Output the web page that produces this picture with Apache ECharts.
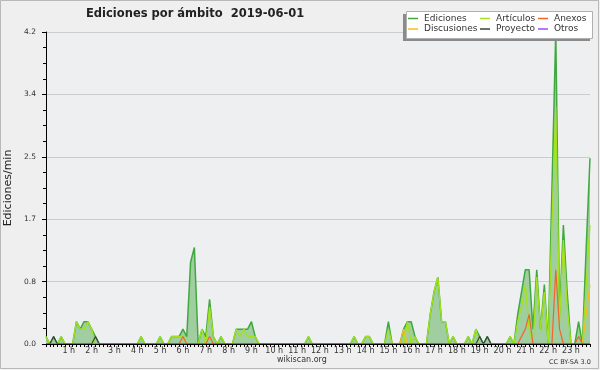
<!DOCTYPE html>
<html>
<head>
<meta charset="utf-8">
<script src="https://cdn.jsdelivr.net/npm/echarts@6/dist/echarts.min.js"></script>
<style>
  html, body { margin: 0; padding: 0; background: #efefef; }
  #chart { width: 600px; height: 370px; }
</style>
</head>
<body>
<div id="chart"></div>
<script>
// one point every 10 minutes, 00:00 .. 23:50 (edits per minute)
var ediciones = [
  0.1, 0, 0.1, 0, 0.1, 0, 0, 0, 0.3, 0.2, 0.3, 0.3,
  0.2, 0.1, 0, 0, 0, 0, 0, 0, 0, 0, 0, 0,
  0, 0.1, 0, 0, 0, 0, 0.1, 0, 0, 0.1, 0.1, 0.1,
  0.2, 0.1, 1.1, 1.3, 0, 0.2, 0.1, 0.6, 0.1, 0, 0.1, 0,
  0, 0, 0.2, 0.2, 0.2, 0.2, 0.3, 0.1, 0, 0, 0, 0,
  0, 0, 0, 0, 0, 0, 0, 0, 0, 0.1, 0, 0,
  0, 0, 0, 0, 0, 0, 0, 0, 0, 0.1, 0, 0,
  0.1, 0.1, 0, 0, 0, 0, 0.3, 0, 0, 0, 0.2, 0.3,
  0.3, 0.1, 0, 0, 0, 0.4, 0.7, 0.9, 0.3, 0.3, 0, 0.1,
  0, 0, 0, 0.1, 0, 0.2, 0.1, 0, 0.1, 0, 0, 0,
  0, 0, 0.1, 0, 0.4, 0.7, 1.0, 1.0, 0.2, 1.0, 0.2, 0.8,
  0, 2.1, 4.2, 0.4, 1.6, 0.7, 0, 0, 0.3, 0, 1.3, 2.5
];
var articulos = [
  0.1, 0, 0, 0, 0.1, 0, 0, 0, 0.3, 0.2, 0.2, 0.3,
  0.2, 0, 0, 0, 0, 0, 0, 0, 0, 0, 0, 0,
  0, 0.1, 0, 0, 0, 0, 0.1, 0, 0, 0.1, 0.1, 0.1,
  0.1, 0, 0, 0, 0, 0.2, 0, 0.5, 0.1, 0, 0.1, 0,
  0, 0, 0.2, 0.1, 0.2, 0.1, 0.1, 0.1, 0, 0, 0, 0,
  0, 0, 0, 0, 0, 0, 0, 0, 0, 0.1, 0, 0,
  0, 0, 0, 0, 0, 0, 0, 0, 0, 0.1, 0, 0,
  0.1, 0.1, 0, 0, 0, 0, 0.2, 0, 0, 0, 0, 0.3,
  0, 0.1, 0, 0, 0, 0.4, 0.7, 0.9, 0.3, 0.3, 0, 0.1,
  0, 0, 0, 0.1, 0, 0.2, 0, 0, 0, 0, 0, 0,
  0, 0, 0.1, 0, 0.3, 0.5, 0.8, 0.2, 0, 0.9, 0.2, 0.7,
  0, 1.6, 3.2, 0.3, 1.4, 0.5, 0, 0, 0, 0, 0.8, 1.6
];
var anexos = [
  0, 0, 0, 0, 0, 0, 0, 0, 0, 0, 0, 0,
  0, 0, 0, 0, 0, 0, 0, 0, 0, 0, 0, 0,
  0, 0, 0, 0, 0, 0, 0, 0, 0, 0, 0, 0,
  0.1, 0, 0, 0, 0, 0, 0, 0.1, 0, 0, 0, 0,
  0, 0, 0, 0, 0, 0, 0, 0, 0, 0, 0, 0,
  0, 0, 0, 0, 0, 0, 0, 0, 0, 0, 0, 0,
  0, 0, 0, 0, 0, 0, 0, 0, 0, 0, 0, 0,
  0, 0, 0, 0, 0, 0, 0, 0, 0, 0, 0, 0,
  0, 0, 0, 0, 0, 0, 0, 0, 0, 0, 0, 0,
  0, 0, 0, 0, 0, 0, 0, 0, 0, 0, 0, 0,
  0, 0, 0, 0, 0, 0.1, 0.2, 0.4, 0, 0, 0, 0,
  0, 0, 1.0, 0.2, 0, 0, 0, 0, 0.1, 0, 0, 0
];
var discusiones = [
  0, 0, 0, 0, 0, 0, 0, 0, 0, 0, 0, 0,
  0, 0, 0, 0, 0, 0, 0, 0, 0, 0, 0, 0,
  0, 0, 0, 0, 0, 0, 0, 0, 0, 0, 0, 0,
  0, 0, 0, 0, 0, 0, 0, 0, 0, 0, 0, 0,
  0, 0, 0, 0, 0, 0, 0, 0, 0, 0, 0, 0,
  0, 0, 0, 0, 0, 0, 0, 0, 0, 0, 0, 0,
  0, 0, 0, 0, 0, 0, 0, 0, 0, 0, 0, 0,
  0, 0, 0, 0, 0, 0, 0, 0, 0, 0, 0.2, 0,
  0, 0, 0, 0, 0, 0, 0, 0, 0, 0, 0, 0,
  0, 0, 0, 0, 0, 0, 0, 0, 0, 0, 0, 0,
  0, 0, 0, 0, 0, 0, 0, 0, 0, 0, 0, 0,
  0, 0, 0, 0, 0, 0, 0, 0, 0, 0, 0.4, 0.8
];
var proyecto = [
  0, 0, 0.1, 0, 0, 0, 0, 0, 0, 0, 0, 0,
  0, 0.1, 0, 0, 0, 0, 0, 0, 0, 0, 0, 0,
  0, 0, 0, 0, 0, 0, 0, 0, 0, 0, 0, 0,
  0, 0, 0, 0, 0, 0, 0, 0, 0, 0, 0, 0,
  0, 0, 0, 0, 0, 0, 0, 0, 0, 0, 0, 0,
  0, 0, 0, 0, 0, 0, 0, 0, 0, 0, 0, 0,
  0, 0, 0, 0, 0, 0, 0, 0, 0, 0, 0, 0,
  0, 0, 0, 0, 0, 0, 0, 0, 0, 0, 0, 0,
  0, 0, 0, 0, 0, 0, 0, 0, 0, 0, 0, 0,
  0, 0, 0, 0, 0, 0, 0.1, 0, 0.1, 0, 0, 0,
  0, 0, 0, 0, 0, 0, 0, 0, 0, 0, 0, 0,
  0, 0, 0, 0, 0, 0, 0, 0, 0, 0, 0, 0
];
var otros = [];   // nothing visible in the picture
for (var k = 0; k < 144; k++) otros.push(0);

var yTicks = { min: 0, max: 4.2, step: 0.84 };

// categories: 00:00, 00:10 ... 23:50
var times = [];
for (var i = 0; i < 144; i++) {
  var h = Math.floor(i / 6), m = (i % 6) * 10;
  times.push((h < 10 ? '0' : '') + h + ':' + (m < 10 ? '0' : '') + m);
}

var chart = echarts.init(document.getElementById('chart'));
var font = 'DejaVu Sans';

function lineSeries(name, data, color, width, z) {
  return {
    name: name, type: 'line', data: data, showSymbol: false, symbol: 'none',
    lineStyle: { color: color, width: width }, itemStyle: { color: color },
    z: z, silent: true
  };
}

var legendItems = [
  ['Ediciones', 408, 14], ['Artículos', 480, 14], ['Anexos', 538, 14],
  ['Discusiones', 408, 24.5], ['Proyecto', 480, 24.5], ['Otros', 538, 24.5]
];

var option = {
  animation: false,
  backgroundColor: '#efefef',
  title: {
    text: 'Ediciones por ámbito  2019-06-01',
    left: 86, top: 8, padding: 0,
    textStyle: { fontFamily: font, fontSize: 11.5, fontWeight: 'bold', color: '#222' }
  },
  legend: legendItems.map(function (it) {
    return {
      data: [it[0]], left: it[1], top: it[2], padding: 0, itemGap: 0,
      icon: 'rect', itemWidth: 10, itemHeight: 1.5, z: 6,
      selectedMode: false,
      textStyle: { fontFamily: font, fontSize: 9, color: '#333', padding: [0, 0, 0, 1] }
    };
  }),
  grid: {
    left: 46, right: 10, top: 32, bottom: 26, outerBoundsMode: 'none',
    show: true, backgroundColor: '#eeeff0', borderWidth: 0
  },
  xAxis: {
    type: 'category', data: times, boundaryGap: false, z: 10,
    axisLine: { lineStyle: { color: '#000', width: 1 } },
    axisTick: { interval: 0, length: 3, lineStyle: { color: '#000' } },
    axisLabel: {
      interval: function (idx) { return idx % 6 === 0 && idx > 0; },
      formatter: function (v, idx) { return Math.floor(idx / 6) + ' h'; },
      fontFamily: font, fontSize: 8, color: '#333', margin: 3
    },
    splitLine: { show: false }
  },
  yAxis: {
    type: 'value', min: yTicks.min, max: yTicks.max, interval: yTicks.step,
    name: 'Ediciones/min', nameLocation: 'middle', nameGap: 28,
    nameTextStyle: { fontFamily: font, fontSize: 11, color: '#222' },
    axisLine: { show: true, lineStyle: { color: '#000' } },
    axisTick: { show: true, length: 4, lineStyle: { color: '#000' } },
    minorTick: { show: true, splitNumber: 4, length: 3, lineStyle: { color: '#000' } },
    axisLabel: {
      formatter: function (v) { return v.toFixed(1); },
      fontFamily: font, fontSize: 7.5, color: '#333', margin: 10
    },
    splitLine: { lineStyle: { color: '#cccccc', width: 1 } }
  },
  graphic: [
    { type: 'rect', shape: { x: 0.5, y: 0.5, width: 598, height: 368 }, style: { fill: 'none', stroke: '#b8b8b8' }, z: 0, silent: true },
    { type: 'rect', shape: { x: 403, y: 14, width: 187, height: 27 }, style: { fill: '#8a8a8a' }, z: 4, silent: true },
    { type: 'rect', shape: { x: 406.5, y: 11.5, width: 186, height: 27 }, style: { fill: '#ffffff', stroke: '#b0b0b0', lineWidth: 1 }, z: 4, silent: true },
    { type: 'text', left: 277, top: 356, style: { text: 'wikiscan.org', font: '8px "DejaVu Sans"', fill: '#333' }, silent: true },
    { type: 'text', left: 549, top: 359, style: { text: 'CC BY-SA 3.0', font: '6.5px "DejaVu Sans"', fill: '#333' }, silent: true }
  ],
  series: [
    {
      name: 'Ediciones', type: 'line', data: ediciones, showSymbol: false, symbol: 'none', silent: true,
      lineStyle: { color: '#3fa93f', width: 1.5 }, itemStyle: { color: '#3fa93f' },
      areaStyle: { color: '#a0cea0', opacity: 1 }, z: 2
    },
    lineSeries('Artículos', articulos, '#a2e21c', 1.3, 3),
    lineSeries('Discusiones', discusiones, '#f2c019', 1.2, 3),
    lineSeries('Anexos', anexos, '#f0652a', 1.2, 3),
    lineSeries('Proyecto', proyecto, '#34443a', 1.2, 3),
    lineSeries('Otros', otros, '#9b4dff', 1, 3)
  ]
};

chart.setOption(option);
</script>
</body>
</html>
